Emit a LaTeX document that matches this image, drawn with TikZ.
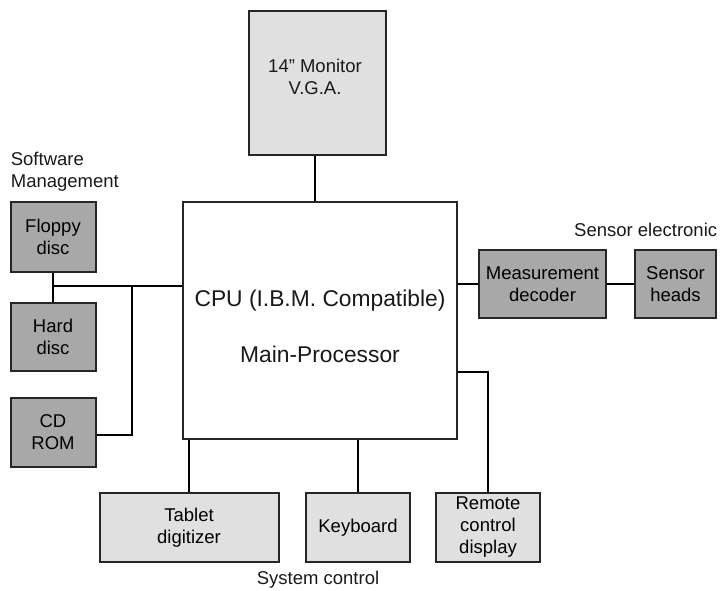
\documentclass[tikz,border=0pt]{standalone}
\usepackage{fontspec}
\setmainfont{Liberation Sans}
\usetikzlibrary{positioning}

\begin{document}
\begin{tikzpicture} [x=1pt, y=-1pt, line width=1.7pt, align=center,
	box/.style={draw=black!85, line width=2pt, fill=black!12, inner sep=0pt, minimum width=104pt, minimum height=69pt, font=\fontsize{18.5}{22}\selectfont},
	darkbox/.style={box, fill=black!34},
	txt/.style={inner sep=0pt, text=black!90, font=\fontsize{18.5}{22}\selectfont},
	bigtxt/.style={txt, font=\fontsize{22.8}{26}\selectfont}]

\useasboundingbox (0,0) rectangle (722,590);

% main processor and monitor
\node[box, fill=white, minimum width=274pt, minimum height=237pt]	(cpu)	at (320,320.5)	{};
\node[bigtxt]	(cputitle)	at (320,301)	{CPU (I.B.M. Compatible)};
\node[bigtxt]	(cpusub)	at (320,354)	{Main-Processor};
\node[box, minimum width=137pt, minimum height=144pt]	(monitor)	at (317.5,83)
	{};
\node[txt]	(monitortext)	at (315,77)	{14" Monitor\\V.G.A.};

% software management
\node[txt, anchor=west, align=left]	(swlabel)	at (10,171.5)	{Software\\Management};
\node[darkbox, minimum width=85pt, minimum height=70pt]	(floppy)	at (53,237)	{Floppy\\disc};
\node[darkbox, minimum width=85pt, minimum height=68pt]	(hard)	[below=29pt of floppy]	{Hard\\disc};
\node[darkbox, minimum width=85pt, minimum height=69pt]	(cdrom)	at (53,432.5)	{CD\\ROM};

% sensor electronic
\node[txt, anchor=east]	(senslabel)	at (718,230)	{Sensor electronic};
\node[darkbox, minimum width=127pt, minimum height=68pt]	(decoder)	at (542.5,284)	{Measurement\\decoder};
\node[darkbox, minimum width=81pt, minimum height=68pt]	(sensor)	[right=27pt of decoder]	{Sensor\\heads};

% system control
\node[box, minimum width=179pt]	(tablet)	at (189,527.5)	{Tablet\\digitizer};
\node[box]	(keyboard)	at (358,527.5)	{Keyboard};
\node[box]	(remote)	at (488,527.5)	{Remote\\control\\display};
\node[txt]	(syslabel)	at (318,580)	{System control};

\coordinate	(swbus)	at (53,286);
\coordinate	(cdjoin)	at (132,286);
\coordinate	(rlevel)	at (0,372);

\draw	(monitor.south -| 315,0)	-- (cpu.north -| 315,0);
\draw	(floppy)	-- (hard);
\draw	(swbus)	-- (swbus -| cpu.west);
\draw	(cdrom.east |- 0,435)	-| (cdjoin);
\draw	(cpu.east |- decoder)	-- (decoder);
\draw	(decoder)	-- (sensor);
\draw	(tablet.north)	-- (tablet.north |- cpu.south);
\draw	(keyboard.north)	-- (keyboard.north |- cpu.south);
\draw	(cpu.east |- rlevel)	-| (remote.north);

\end{tikzpicture}
\end{document}
